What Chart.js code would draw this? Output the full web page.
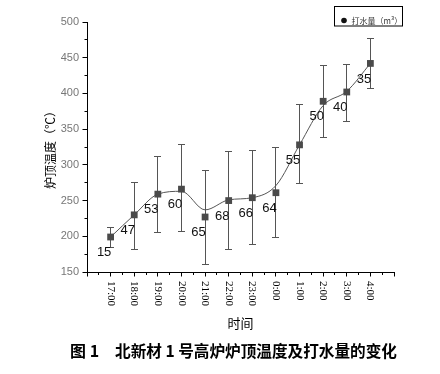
<!DOCTYPE html>
<html>
<head>
<meta charset="utf-8">
<script src="https://cdn.jsdelivr.net/npm/chart.js@4/dist/chart.umd.min.js"></script>
<style>
html,body{margin:0;padding:0;background:#fff;}
#wrap{position:relative;width:440px;height:374px;}
canvas{display:block;}
</style>
</head>
<body>
<div id="wrap"><canvas id="c" width="440" height="374"></canvas></div>
<script>
const categories = ['17:00','18:00','19:00','20:00','21:00','22:00','23:00','0:00','1:00','2:00','3:00','4:00'];
const temperature = [199,230,259,266,227,250,254,261,328,389,402,442];
const tempHigh = [213,276,312,328,292,319,320,324,385,439,440,477];
const tempLow = [185,182,205,207,161,182,188,198,274,338,361,407];
const smoothFit = [199,230,259,263,237,251,254,271,328,383,403,442];
const waterAmount = [15,47,53,60,65,68,66,64,55,50,40,35];
const yTickValues = [150,200,250,300,350,400,450,500];
const yTitle = '炉顶温度（℃）';
const xTitle = '时间';
const legendLabel = '打水量（m³）';
const captionLeft = '图 1';
const captionRight = '北新材 1 号高炉炉顶温度及打水量的变化';

const AX = '#000';
const MARK = '#4a4a4a';

function crisp(p){ return Math.round(p - 0.5) + 0.5; }

const decorPlugin = {
  id: 'decor',
  beforeDatasetsDraw(chart){
    const ctx = chart.ctx, xs = chart.scales.x, ys = chart.scales.y;
    ctx.save();
    ctx.strokeStyle = '#555';
    ctx.lineWidth = 1;
    categories.forEach((c,i)=>{
      const x = crisp(xs.getPixelForValue(i));
      const yh = ys.getPixelForValue(tempHigh[i]);
      const yl = ys.getPixelForValue(tempLow[i]);
      ctx.beginPath();
      ctx.moveTo(x, yh); ctx.lineTo(x, yl);
      ctx.moveTo(x-3.5, crisp(yh)); ctx.lineTo(x+3.5, crisp(yh));
      ctx.moveTo(x-3.5, crisp(yl)); ctx.lineTo(x+3.5, crisp(yl));
      ctx.stroke();
    });
    ctx.restore();
  },
  afterDraw(chart){
    const ctx = chart.ctx, xs = chart.scales.x, ys = chart.scales.y;
    const area = chart.chartArea;
    ctx.save();
    // axis tick marks
    ctx.strokeStyle = AX; ctx.lineWidth = 1;
    const axX = crisp(area.left);
    const axY = crisp(area.bottom);
    ctx.beginPath();
    for (let k = 0; k < yTickValues.length; k++){
      const v = yTickValues[k];
      const y = crisp(ys.getPixelForValue(v));
      ctx.moveTo(axX - 5, y); ctx.lineTo(axX, y);
      if (k < yTickValues.length - 1){
        const ym = crisp(ys.getPixelForValue(v + (yTickValues[k+1]-v)/2));
        ctx.moveTo(axX - 3, ym); ctx.lineTo(axX, ym);
      }
    }
    for (let i = -1; i <= categories.length; i++){
      const x = crisp(xs.getPixelForValue(i));
      ctx.moveTo(x, axY); ctx.lineTo(x, axY + 4);
      if (i < categories.length){
        const xm = crisp(xs.getPixelForValue(i + 0.5));
        ctx.moveTo(xm, axY); ctx.lineTo(xm, axY + 2.5);
      }
    }
    ctx.stroke();

    // x tick labels (rotated clockwise)
    ctx.fillStyle = '#000';
    ctx.font = '11px "Liberation Serif", "Times New Roman", serif';
    ctx.textAlign = 'left';
    ctx.textBaseline = 'middle';
    categories.forEach((c,i)=>{
      const x = xs.getPixelForValue(i);
      ctx.save();
      ctx.translate(x, 281);
      ctx.rotate(Math.PI/2);
      ctx.fillText(c, 0, 0);
      ctx.restore();
    });

    // x title
    ctx.font = '13px "Noto Sans CJK SC", sans-serif';
    ctx.textAlign = 'center';
    ctx.textBaseline = 'middle';
    ctx.fillText(xTitle, (area.left + area.right)/2, 323);

    // y title
    ctx.save();
    ctx.translate(50, (area.top + area.bottom)/2);
    ctx.rotate(-Math.PI/2);
    ctx.font = '12px "Noto Sans CJK SC", sans-serif';
    ctx.fillText(yTitle, 0, 0);
    ctx.restore();

    // data labels (water amount)
    ctx.font = '13px "Liberation Sans", Arial, sans-serif';
    ctx.fillStyle = '#111';
    waterAmount.forEach((w,i)=>{
      const x = xs.getPixelForValue(i);
      const y = ys.getPixelForValue(temperature[i]);
      ctx.fillText(String(w), x - 6.5, y + 15.5);
    });

    // legend box
    ctx.strokeStyle = '#000';
    ctx.lineWidth = 1;
    ctx.strokeRect(334.5, 6.5, 68, 19.5);
    ctx.fillStyle = '#111';
    ctx.beginPath();
    ctx.arc(344, 20.5, 2.8, 0, Math.PI*2);
    ctx.fill();
    ctx.fillStyle = '#333';
    ctx.font = '8px "Noto Sans CJK SC", sans-serif';
    ctx.textAlign = 'left';
    ctx.textBaseline = 'middle';
    ctx.fillText(legendLabel, 351.5, 21);

    // caption
    ctx.fillStyle = '#000';
    ctx.font = 'bold 16px "Noto Sans CJK SC", sans-serif';
    ctx.textAlign = 'left';
    ctx.fillText(captionLeft, 70, 351);
    const w = ctx.measureText(captionRight).width;
    const target = 397 - 115;
    ctx.save();
    ctx.translate(115, 351);
    ctx.scale(Math.min(1.1, target / w), 1);
    ctx.fillText(captionRight, 0, 0);
    ctx.restore();

    ctx.restore();
  }
};

new Chart(document.getElementById('c'), {
  type: 'line',
  data: {
    datasets: [
      {
        label: '炉顶温度',
        data: temperature.map((v,i)=>({x:i, y:v})),
        showLine: false,
        pointStyle: 'rect',
        pointRadius: 4.8,
        pointBackgroundColor: MARK,
        pointBorderColor: MARK,
        pointBorderWidth: 0,
        borderColor: MARK
      },
      {
        label: 'fit',
        data: smoothFit.map((v,i)=>({x:i, y:v})),
        borderColor: '#555',
        borderWidth: 1,
        pointRadius: 0,
        cubicInterpolationMode: 'monotone',
        fill: false
      }
    ]
  },
  options: {
    responsive: false,
    animation: false,
    events: [],
    layout: { padding: { left: 0, right: 46, top: 22, bottom: 0 } },
    plugins: { legend: { display: false }, tooltip: { enabled: false } },
    scales: {
      x: {
        type: 'linear',
        min: -1, max: 12,
        grid: { display: false, drawTicks: false },
        border: { display: true, color: AX, width: 1 },
        ticks: { display: false },
        afterFit(s){ s.height = 102; }
      },
      y: {
        type: 'linear',
        min: 150, max: 500,
        grid: { display: false, drawTicks: false },
        border: { display: true, color: AX, width: 1 },
        ticks: {
          stepSize: 50,
          padding: 8,
          color: '#777',
          font: { family: '"Liberation Sans", Arial, sans-serif', size: 11 }
        },
        afterFit(s){ s.width = 87; }
      }
    }
  },
  plugins: [decorPlugin]
});
</script>
</body>
</html>
